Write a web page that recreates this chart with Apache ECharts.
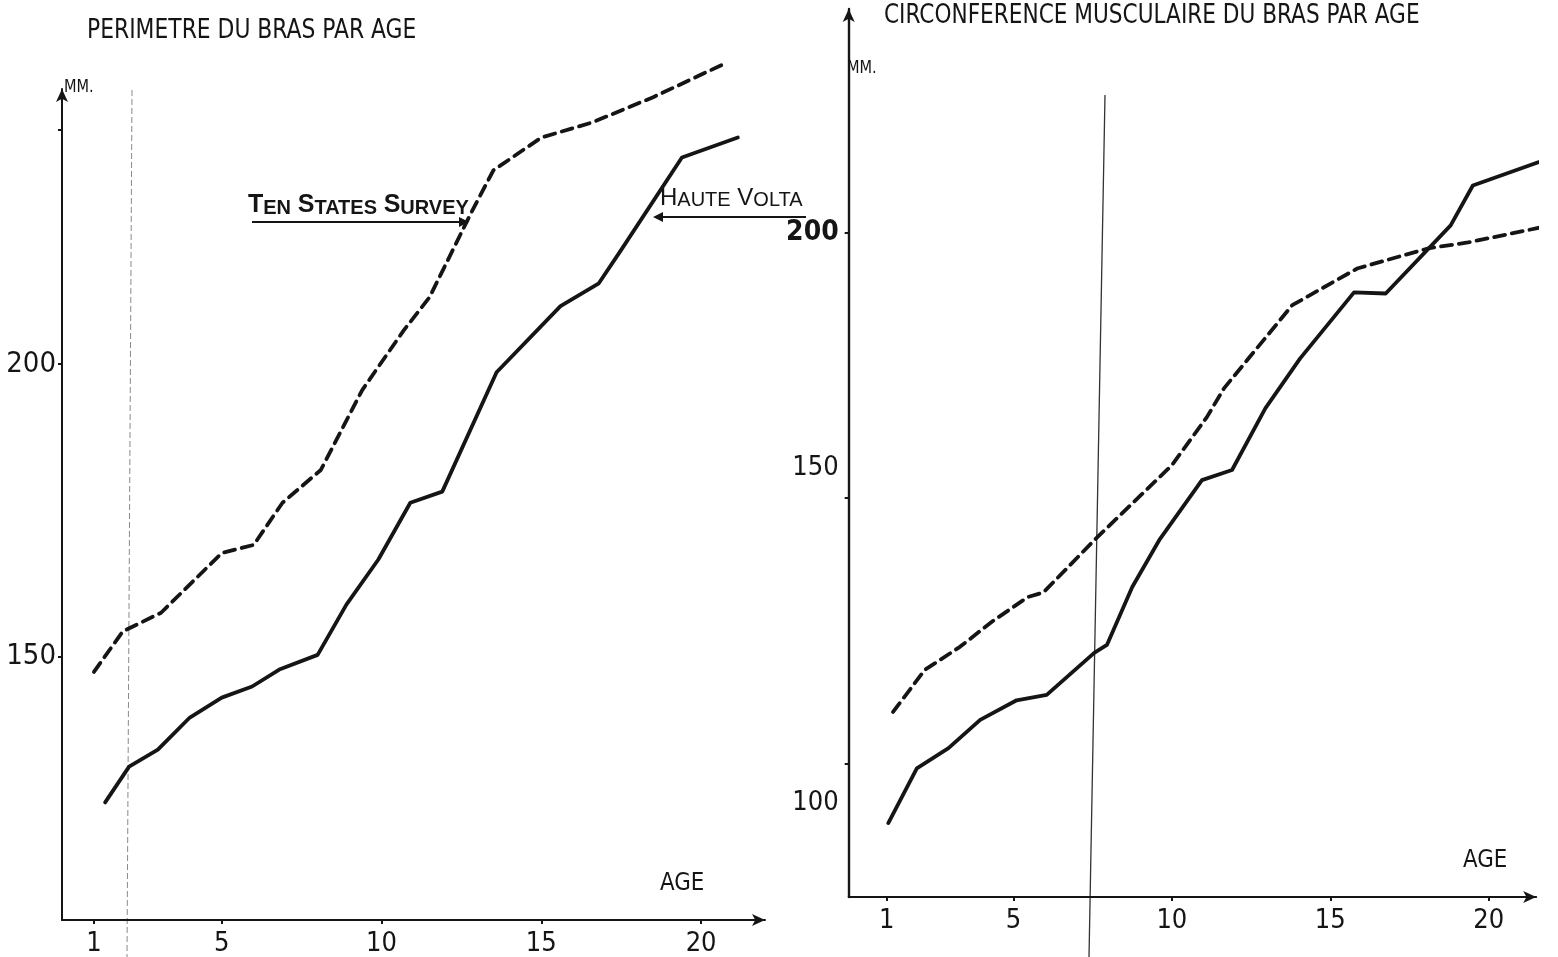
<!DOCTYPE html>
<html>
<head>
<meta charset="utf-8">
<script src="https://cdn.jsdelivr.net/npm/echarts@6.0.0/dist/echarts.min.js"></script>
<style>
  html, body { margin: 0; padding: 0; background: #fff; }
  #chart { width: 1558px; height: 957px; }
</style>
</head>
<body>
<div id="chart"></div>
<script>
// Arm perimeter by age (mm) — [age, value] vertices of each curve
const armTenStates = [
  [1.0, 147.4], [1.9, 154.3], [3.1, 157.5], [5.0, 167.7], [6.0, 169.1],
  [6.9, 176.3], [8.1, 181.9], [9.4, 195.6], [10.7, 205.8], [11.5, 211.4],
  [12.8, 225.8], [13.5, 233.1], [15.0, 238.7], [16.6, 241.3], [18.5, 245.6],
  [20.8, 251.5]
];
const armHauteVolta = [
  [1.35, 125.1], [2.1, 131.2], [3.0, 134.1], [4.0, 139.6], [5.0, 143.0],
  [5.95, 144.9], [6.8, 147.8], [8.0, 150.3], [8.9, 158.9], [9.9, 166.6],
  [10.9, 176.3], [11.9, 178.2], [13.6, 198.6], [15.6, 209.9], [16.8, 213.8],
  [17.5, 219.5], [19.4, 235.3], [21.15, 238.7]
];

// Arm muscle circumference by age (mm)
const muscleTenStates = [
  [1.2, 109.8], [2.2, 117.7], [3.3, 122.0], [4.35, 126.9], [5.45, 131.4],
  [5.95, 132.3], [7.55, 142.1], [10.0, 156.2], [11.1, 165.2], [11.65, 170.7],
  [12.45, 176.5], [13.8, 186.3], [15.85, 193.2], [18.1, 197.0], [19.35, 198.1],
  [21.95, 201.3]
];
const muscleHauteVolta = [
  [1.05, 88.9], [1.95, 99.2], [2.95, 103.0], [3.95, 108.3], [5.1, 112.0],
  [6.05, 113.0], [7.55, 120.9], [7.95, 122.4], [8.75, 133.3], [9.6, 142.1],
  [10.95, 153.4], [11.9, 155.3], [12.95, 166.9], [14.05, 176.3], [15.75, 188.7],
  [16.75, 188.5], [18.8, 201.3], [19.5, 208.8], [22.2, 214.5]
];

// Axis ticks and labels
const ageTicks = [1, 5, 10, 15, 20];
const armMmLabels = [150, 200];
const armMmTicks = [150, 200, 240];
const muscleMmLabels = [100, 150, 200];

const INK = '#151515';
const NARROW = "'Liberation Sans Narrow', 'DejaVu Sans Condensed', 'Liberation Sans', sans-serif";

const chart = echarts.init(document.getElementById('chart'), null, { renderer: 'canvas' });

function ageAxis(gridIndex, min, max) {
  return {
    type: 'value', gridIndex, min, max,
    axisLine: { show: true, onZero: false, symbol: ['none', 'arrow'], symbolSize: [9, 13],
      lineStyle: { color: INK, width: 2 } },
    axisTick: { show: true, customValues: ageTicks, length: 4, lineStyle: { color: INK, width: 2 } },
    axisLabel: { customValues: ageTicks, color: INK, fontFamily: NARROW, fontSize: 27, margin: 10 },
    splitLine: { show: false }
  };
}

function curve(name, data, xi, dashed) {
  return {
    name, type: 'line', data, xAxisIndex: xi, yAxisIndex: xi,
    showSymbol: false, clip: false, smooth: false, silent: true,
    lineStyle: { color: INK, width: 3.8, type: dashed ? [11, 7] : 'solid', cap: 'round', join: 'round' }
  };
}

// shift the muscle-panel y labels the way they are lettered beside the axis
const muscleLabelRich = {
  l100: { fontFamily: NARROW, fontSize: 27, color: INK, padding: [78, 0, 0, 0] },
  l150: { fontFamily: NARROW, fontSize: 27, color: INK, padding: [0, 0, 60, 0] },
  l200: { fontFamily: NARROW, fontSize: 28, color: INK, fontWeight: 'bold' }
};

function arrowHead(x, y, dir) {
  const l = 10, h = 5;
  return {
    type: 'polygon',
    shape: { points: dir > 0 ? [[x, y], [x - l, y - h], [x - l, y + h]] : [[x, y], [x + l, y - h], [x + l, y + h]] },
    style: { fill: INK }
  };
}

// condensed lettering: text scaled horizontally from its left edge
function lettering(text, x, y, size, sx, weight) {
  return {
    type: 'text', x, y, scaleX: sx, silent: true,
    style: { text, font: (weight || 'normal') + ' ' + size + 'px ' + NARROW, fill: INK, verticalAlign: 'top' }
  };
}

const option = {
  backgroundColor: '#ffffff',
  animation: false,
  grid: [
    { left: 62, top: 89, width: 703, height: 832, containLabel: false },
    { left: 848.7, top: 9, width: 687.5, height: 888, containLabel: false }
  ],
  xAxis: [ageAxis(0, 0, 22), ageAxis(1, -0.2, 21.5)],
  yAxis: [
    {
      type: 'value', gridIndex: 0, min: 105, max: 247,
      axisLine: { show: true, onZero: false, symbol: ['none', 'arrow'], symbolSize: [9, 13],
        lineStyle: { color: INK, width: 2 } },
      axisTick: { show: true, customValues: armMmTicks, length: 4, lineStyle: { color: INK, width: 2 } },
      axisLabel: { customValues: armMmLabels, color: INK, fontFamily: NARROW, fontSize: 29, margin: 6 },
      splitLine: { show: false }
    },
    {
      type: 'value', gridIndex: 1, min: 75, max: 242,
      axisLine: { show: true, onZero: false, symbol: ['none', 'arrow'], symbolSize: [9, 13],
        lineStyle: { color: INK, width: 2.4 } },
      axisTick: { show: true, customValues: muscleMmLabels, length: 4, lineStyle: { color: INK, width: 2 } },
      axisLabel: {
        customValues: muscleMmLabels, color: INK, fontFamily: NARROW, fontSize: 27, margin: 10,
        formatter: v => '{l' + v + '|' + v + '}', rich: muscleLabelRich
      },
      splitLine: { show: false }
    }
  ],
  series: [
    curve('Ten States Survey', armTenStates, 0, true),
    curve('Haute Volta', armHauteVolta, 0, false),
    curve('Ten States Survey', muscleTenStates, 1, true),
    curve('Haute Volta', muscleHauteVolta, 1, false)
  ],
  graphic: [
    // fold lines of the sheet
    { type: 'line', shape: { x1: 132, y1: 90, x2: 127, y2: 957 }, style: { stroke: '#8a8a8a', lineWidth: 1, lineDash: [6, 3] }, silent: true },
    { type: 'line', shape: { x1: 1105, y1: 95, x2: 1089, y2: 957 }, style: { stroke: '#333', lineWidth: 1.3 }, silent: true },

    // panel titles
    lettering('PERIMETRE DU BRAS PAR AGE', 87, 17, 27, 0.9),
    lettering('CIRCONFERENCE MUSCULAIRE DU BRAS PAR AGE', 884, 3, 26, 0.925),

    // unit and axis names
    lettering('MM.', 64, 79, 17, 0.95),
    lettering('MM.', 847, 60, 17, 0.95),
    lettering('AGE', 660, 871, 25, 0.95),
    lettering('AGE', 1463, 848, 25, 0.95),

    // curve annotations
    {
      type: 'text', left: 248, top: 193,
      style: {
        text: '{b|T}{s|EN}  {b|S}{s|TATES}  {b|S}{s|URVEY}',
        rich: {
          b: { font: "bold 25px 'Liberation Sans', sans-serif", fill: INK, verticalAlign: 'bottom' },
          s: { font: "bold 20px 'Liberation Sans', sans-serif", fill: INK, verticalAlign: 'bottom' }
        }
      }
    },
    { type: 'line', shape: { x1: 252, y1: 222, x2: 460, y2: 222 }, style: { stroke: INK, lineWidth: 2.2 } },
    arrowHead(469, 222, 1),
    {
      type: 'text', left: 660, top: 186,
      style: {
        text: '{b|H}{s|AUTE}  {b|V}{s|OLTA}',
        rich: {
          b: { font: "24px 'Liberation Sans', sans-serif", fill: INK, verticalAlign: 'bottom' },
          s: { font: "20px 'Liberation Sans', sans-serif", fill: INK, verticalAlign: 'bottom' }
        }
      }
    },
    { type: 'line', shape: { x1: 662, y1: 217, x2: 806, y2: 217 }, style: { stroke: INK, lineWidth: 2.2 } },
    arrowHead(653, 217, -1)
  ]
};

chart.setOption(option);
</script>
</body>
</html>
